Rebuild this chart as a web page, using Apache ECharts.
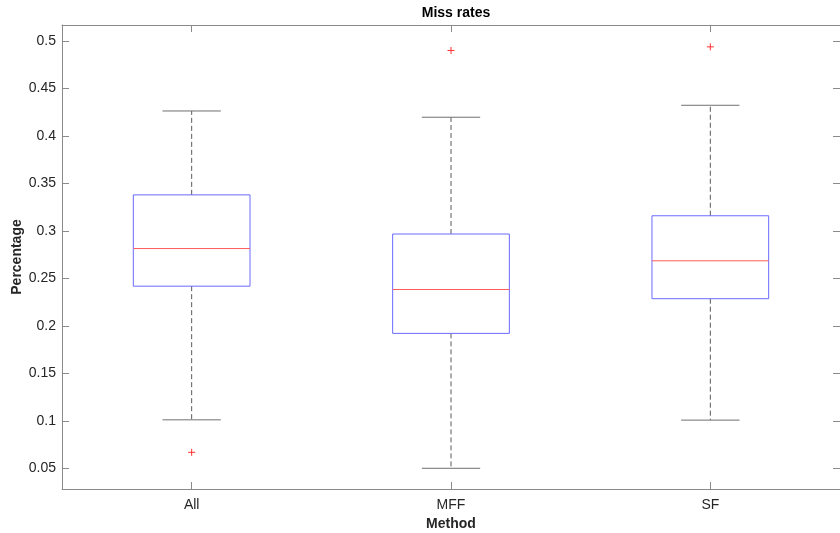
<!DOCTYPE html>
<html>
<head>
<meta charset="utf-8">
<script src="https://cdn.jsdelivr.net/npm/echarts@6/dist/echarts.min.js"></script>
<style>html,body{margin:0;padding:0;background:#fff}#c{width:840px;height:533px}</style>
</head>
<body>
<div id="c"></div>
<script>
var categories = ['All', 'MFF', 'SF'];
var lowerWhisker = [0.1012, 0.0502, 0.1009];
var q1 = [0.2419, 0.1922, 0.2287];
var median = [0.2815, 0.2384, 0.2686];
var q3 = [0.338, 0.2968, 0.316];
var upperWhisker = [0.4263, 0.4197, 0.4323];
var outlierCat = [0, 1, 2];
var outlierVal = [0.067, 0.490, 0.4938];
var yTicks = [0.05, 0.1, 0.15, 0.2, 0.25, 0.3, 0.35, 0.4, 0.45, 0.5];
var yMin = 0.0284, yMax = 0.5168;

var boxData = categories.map(function (c, i) {
  return [i, lowerWhisker[i], q1[i], median[i], q3[i], upperWhisker[i]];
});
var outData = outlierCat.map(function (c, i) { return [c, outlierVal[i]]; });

var axisCol = '#8a8a8a';
var textCol = '#262626';
var font = 'Arial, Liberation Sans, sans-serif';

function renderBox(params, api) {
  var x = api.value(0);
  var band = api.size([1, 0])[0];
  var bw = band * 0.45, cw = band * 0.225;
  var pLo = api.coord([x, api.value(1)]);
  var pQ1 = api.coord([x, api.value(2)]);
  var pMed = api.coord([x, api.value(3)]);
  var pQ3 = api.coord([x, api.value(4)]);
  var pHi = api.coord([x, api.value(5)]);
  var cx = pQ1[0];
  var dashStyle = { stroke: '#5a5a5a', lineWidth: 1, lineDash: [5, 3], fill: null };
  var capStyle = { stroke: '#707070', lineWidth: 1, fill: null };
  return {
    type: 'group',
    children: [
      { type: 'line', shape: { x1: cx, y1: pQ3[1], x2: cx, y2: pHi[1] }, style: dashStyle },
      { type: 'line', shape: { x1: cx, y1: pQ1[1], x2: cx, y2: pLo[1] }, style: dashStyle },
      { type: 'line', shape: { x1: cx - cw / 2, y1: pHi[1], x2: cx + cw / 2, y2: pHi[1] }, style: capStyle },
      { type: 'line', shape: { x1: cx - cw / 2, y1: pLo[1], x2: cx + cw / 2, y2: pLo[1] }, style: capStyle },
      { type: 'rect', shape: { x: cx - bw / 2, y: pQ3[1], width: bw, height: pQ1[1] - pQ3[1] },
        style: { stroke: '#6a6aff', lineWidth: 1, fill: null } },
      { type: 'line', shape: { x1: cx - bw / 2, y1: pMed[1], x2: cx + bw / 2, y2: pMed[1] },
        style: { stroke: '#ff5a5a', lineWidth: 1, fill: null } }
    ]
  };
}

function renderOut(params, api) {
  var p = api.coord([api.value(0), api.value(1)]);
  var s = 3.5;
  var st = { stroke: '#ff3030', lineWidth: 1, fill: null };
  return {
    type: 'group',
    children: [
      { type: 'line', shape: { x1: p[0] - s, y1: p[1], x2: p[0] + s, y2: p[1] }, style: st },
      { type: 'line', shape: { x1: p[0], y1: p[1] - s, x2: p[0], y2: p[1] + s }, style: st }
    ]
  };
}

var chart = echarts.init(document.getElementById('c'), null, { renderer: 'canvas' });
chart.setOption({
  animation: false,
  backgroundColor: '#fff',
  title: {
    text: 'Miss rates', left: 451, top: 1, textAlign: 'center',
    textStyle: { fontFamily: font, fontSize: 14, fontWeight: 'bold', color: '#000' }
  },
  grid: { left: 62, right: 0, top: 25, bottom: 44, containLabel: false, outerBoundsMode: 'none' },
  xAxis: [{
    type: 'category', data: categories, position: 'bottom', boundaryGap: true,
    name: 'Method', nameLocation: 'middle', nameGap: 28,
    nameTextStyle: { fontFamily: font, fontSize: 14, fontWeight: 'bold', color: textCol },
    axisLine: { show: true, lineStyle: { color: axisCol } },
    axisTick: { show: true, inside: true, alignWithLabel: true, length: 7, lineStyle: { color: axisCol } },
    axisLabel: { margin: 9, fontFamily: font, fontSize: 14, color: textCol },
    splitLine: { show: false }
  }, {
    type: 'category', data: categories, position: 'top', boundaryGap: true,
    axisLine: { show: true, lineStyle: { color: axisCol } },
    axisTick: { show: true, inside: true, alignWithLabel: true, length: 7, lineStyle: { color: axisCol } },
    axisLabel: { show: false }, splitLine: { show: false }
  }],
  yAxis: [{
    type: 'value', min: yMin, max: yMax, position: 'left',
    name: 'Percentage', nameLocation: 'middle', nameGap: 38, nameMoveOverlap: false,
    nameTextStyle: { fontFamily: font, fontSize: 14, fontWeight: 'bold', color: textCol },
    axisLine: { show: true, lineStyle: { color: axisCol } },
    axisTick: { show: true, inside: true, length: 7, customValues: yTicks, lineStyle: { color: axisCol } },
    axisLabel: { margin: 6, customValues: yTicks, fontFamily: font, fontSize: 14, color: textCol,
      formatter: function (v) { return String(parseFloat(v.toFixed(2))); } },
    splitLine: { show: false }
  }, {
    type: 'value', min: yMin, max: yMax, position: 'right',
    axisLine: { show: true, lineStyle: { color: axisCol } },
    axisTick: { show: true, inside: true, length: 7, customValues: yTicks, lineStyle: { color: axisCol } },
    axisLabel: { show: false }, splitLine: { show: false }
  }],
  series: [{
    type: 'custom', xAxisIndex: 0, yAxisIndex: 0, renderItem: renderBox,
    encode: { x: 0, y: [1, 2, 3, 4, 5] }, data: boxData, silent: true
  }, {
    type: 'custom', xAxisIndex: 0, yAxisIndex: 0, renderItem: renderOut,
    encode: { x: 0, y: 1 }, data: outData, silent: true
  }]
});
</script>
</body>
</html>
